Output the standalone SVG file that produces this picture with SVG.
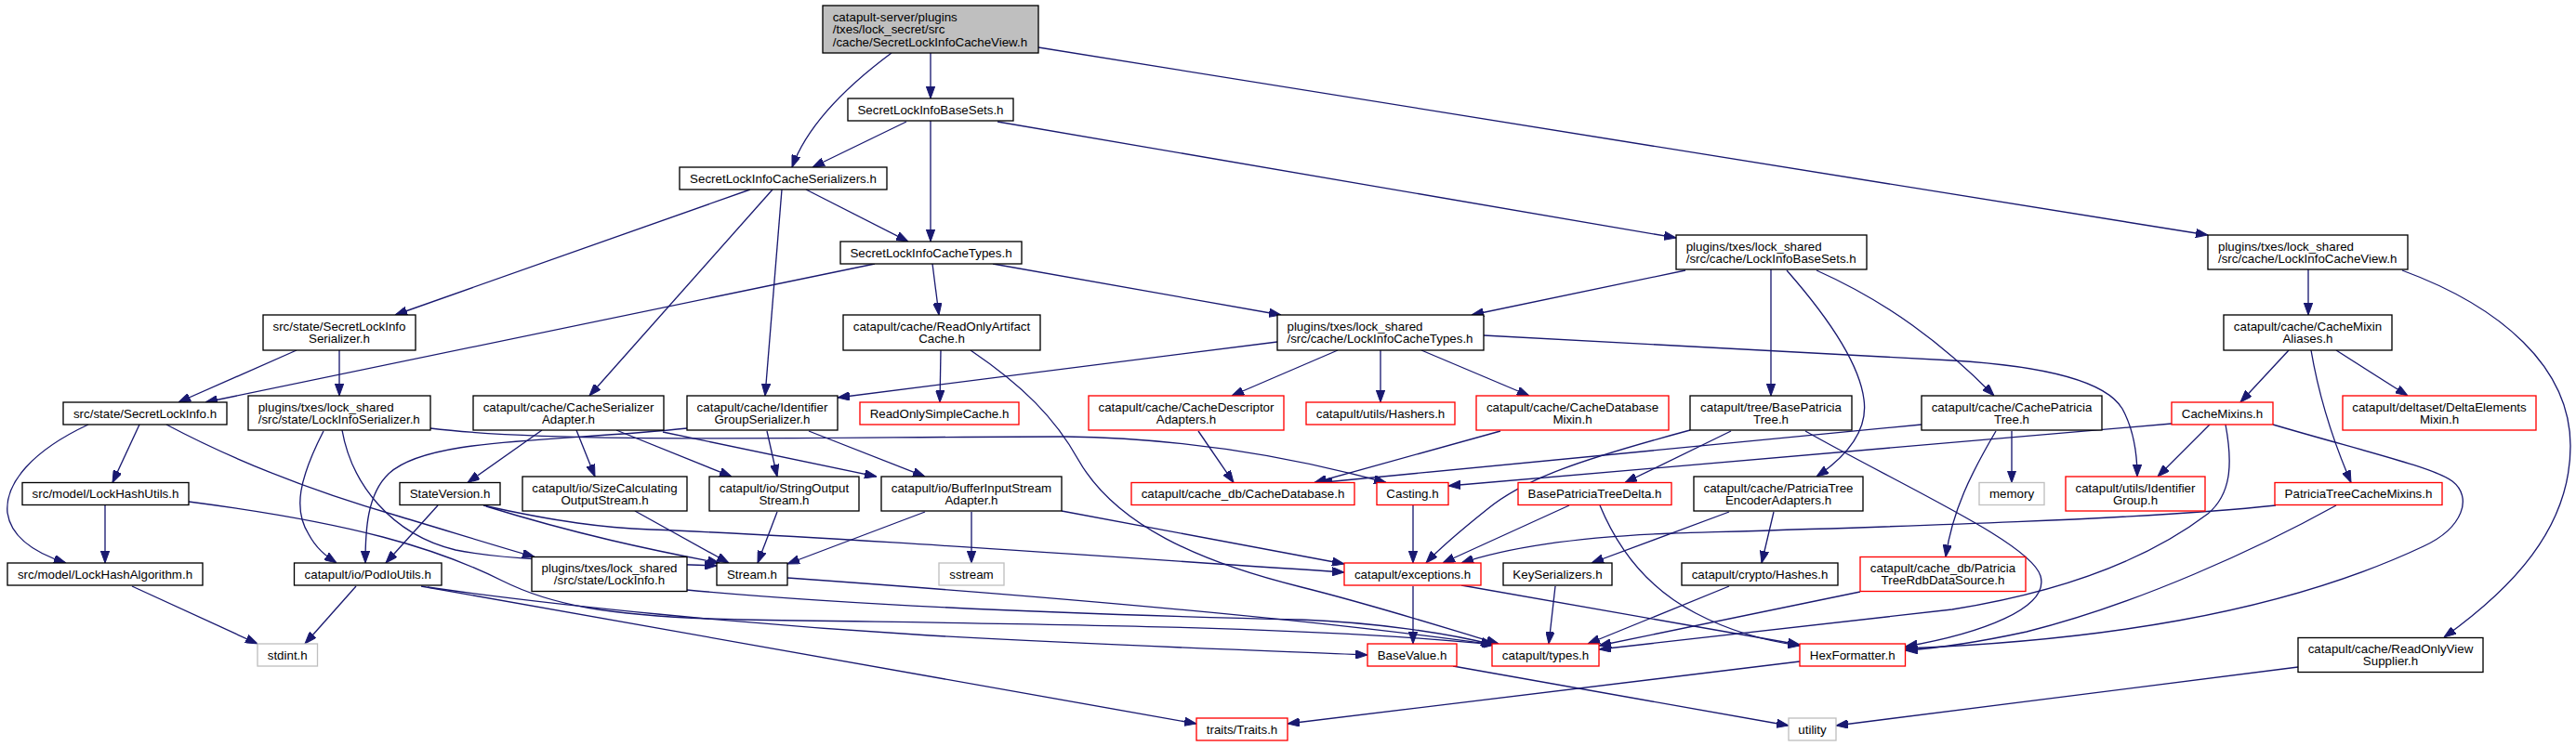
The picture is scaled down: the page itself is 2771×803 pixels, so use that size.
<svg xmlns="http://www.w3.org/2000/svg" width="2771" height="803" viewBox="0 0 2771 803">
<defs>
<style>
.nb{fill:#fff;stroke:#000;stroke-width:1.33}
.nr{fill:#fff;stroke:#f00;stroke-width:1.33}
.ng{fill:#fff;stroke:#bfbfbf;stroke-width:1.33}
.nroot{fill:#bfbfbf;stroke:#000;stroke-width:1.33}
text{font-family:"Liberation Sans",Arial,Helvetica,sans-serif;font-size:13.33px;fill:#000}
.m{text-anchor:middle}
#edges path{fill:none;stroke:#191970;stroke-width:1.33;marker-end:url(#arr)}
</style>
<marker id="arr" markerUnits="userSpaceOnUse" viewBox="0 0 13 9.4" refX="13" refY="4.7" markerWidth="13" markerHeight="9.4" orient="auto"><path d="M0,0 L13,4.7 L0,9.4 z" fill="#191970" stroke="#191970" stroke-width="1"/></marker>
</defs>
<rect width="2771" height="803" fill="#fff"/>
<g id="edges">
<path d="M959,57 C920,86 870,130 852,180"/>
<path d="M1001,57 L1001,106"/>
<path d="M1117,51 L2375,253"/>
<path d="M975,131 L874,180"/>
<path d="M1001,130 L1001,260"/>
<path d="M1073,131 L1803,256"/>
<path d="M867,204 L977,260"/>
<path d="M807,204 L425,339"/>
<path d="M831,204 L634,426"/>
<path d="M841,204 L823,426"/>
<path d="M941,284 L221,433"/>
<path d="M1003,284 L1010,339"/>
<path d="M1068,284 L1378,339"/>
<path d="M1813,291 L1583,339"/>
<path d="M1905,290 L1905,426"/>
<path d="M1922,291 C1965,340 2000,390 2005,430 C2010,465 1985,492 1954,513"/>
<path d="M1954,291 C2030,325 2090,370 2145,426"/>
<path d="M2483,290 L2483,339"/>
<path d="M2584,291 C2690,330 2765,395 2765,480 C2765,570 2700,635 2629,686"/>
<path d="M319,377 L192,433"/>
<path d="M365,377 L365,426"/>
<path d="M1012,377 L1011,433"/>
<path d="M1044,377 C1100,415 1135,450 1160,495 C1200,565 1290,605 1400,632 C1480,652 1545,673 1612,693"/>
<path d="M1374,368 L901,428"/>
<path d="M1439,377 L1325,426"/>
<path d="M1485,377 L1485,433"/>
<path d="M1529,377 L1645,426"/>
<path d="M1596,361 L2100,388 C2200,394 2265,410 2283,440 C2295,462 2299,490 2299,513"/>
<path d="M2462,377 L2410,433"/>
<path d="M2486,377 C2495,430 2512,480 2529,519.5"/>
<path d="M2513,377 L2590,426"/>
<path d="M150,457 L121,519.5"/>
<path d="M95,457 C35,485 5,520 8,552 C12,580 40,596 71,606"/>
<path d="M179,457 C260,500 340,530 430,556 C490,574 535,588 575,599.5"/>
<path d="M113,544 L113,606"/>
<path d="M203,540 C380,563 470,590 540,625 C590,650 650,664 800,667 C1100,672 1400,673 1608,694"/>
<path d="M348,464 C322,515 315,548 332,575 C340,590 350,598 362,606"/>
<path d="M368,463 C378,520 420,575 490,592 C560,606 680,605 771,609"/>
<path d="M463,461 C600,478 900,470 1146,470 C1300,472 1420,500 1491,519.5"/>
<path d="M583,463 L503,519.5"/>
<path d="M620,463 L640,513"/>
<path d="M663,463 L787,513"/>
<path d="M713,465 L943,513"/>
<path d="M739,461 C600,476 460,470 418,510 C395,532 393,570 393,606"/>
<path d="M825,464 L836,513"/>
<path d="M870,464 L995,513"/>
<path d="M1289,464 L1327,519.5"/>
<path d="M1614,464 L1414,519.5"/>
<path d="M1818,463 C1700,495 1640,515 1600,548 C1570,572 1545,594 1534,606"/>
<path d="M1862,464 L1748,519.5"/>
<path d="M1942,464 C2050,525 2185,585 2195,620 C2205,655 2130,682 2049.5,696"/>
<path d="M2164,464 L2164,519.5"/>
<path d="M2147,464 C2120,510 2100,550 2093,599.5"/>
<path d="M2067,457 L1420,519.5"/>
<path d="M2336,456 L1558,523"/>
<path d="M2377,457 L2321,513"/>
<path d="M2394,457 C2402,500 2400,532 2375,553 C2300,610 2200,640 2100,656 L1720,699"/>
<path d="M2445,457 C2540,485 2618,503 2638,518 C2660,535 2650,568 2607,588 C2450,662 2250,690 2049.5,698"/>
<path d="M1688,544 L1552,606"/>
<path d="M1721,544 C1740,590 1770,632 1824,660 C1862,680 1900,690 1936,695"/>
<path d="M1860,551 L1712,606"/>
<path d="M1908,551 L1895,606"/>
<path d="M2448,544 C2300,560 2000,568 1800,574 C1690,578 1620,590 1572,606"/>
<path d="M2513,544 C2430,590 2300,650 2180,680 C2120,693 2080,698 2049.5,700"/>
<path d="M1520,544 L1520,606"/>
<path d="M471,544 L415,606"/>
<path d="M523,545 C620,575 700,592 774,606"/>
<path d="M520,544 C600,562 650,568 700,570 C900,578 1200,600 1446,616"/>
<path d="M683,550 L784,606"/>
<path d="M836,551 L815,606"/>
<path d="M995,551 L847,607"/>
<path d="M1045,551 L1045,606"/>
<path d="M1142,550 L1446,607"/>
<path d="M142,631 L277,693"/>
<path d="M383,631 L328,693"/>
<path d="M460,632 C600,652 800,672 1000,684 C1200,695 1350,700 1471,705"/>
<path d="M453,631 L1287,779"/>
<path d="M739,635 C900,650 1100,660 1400,667 C1480,670 1560,682 1606,694"/>
<path d="M847,622 C1100,640 1400,665 1607,694"/>
<path d="M1520,631 L1520,693"/>
<path d="M1572,630 L1936,694"/>
<path d="M1673,631 L1666,693"/>
<path d="M1860,631 L1708,693"/>
<path d="M2001,637 L1720,695"/>
<path d="M1563,717 L1924,781"/>
<path d="M1936,712 L1385,779"/>
<path d="M2472,718 L1975,781"/>
</g>
<g id="n_root"><rect class="nroot" x="885" y="6" width="232" height="51"/><text x="895.7" y="23.1">catapult-server/plugins</text><text x="895.7" y="36.4">/txes/lock_secret/src</text><text x="895.7" y="49.7">/cache/SecretLockInfoCacheView.h</text></g>
<g id="n_basesets"><rect class="nb" x="912" y="106" width="178" height="24"/><text class="m" x="1001" y="122.6">SecretLockInfoBaseSets.h</text></g>
<g id="n_serializers"><rect class="nb" x="731" y="180" width="223" height="24"/><text class="m" x="842.5" y="196.6">SecretLockInfoCacheSerializers.h</text></g>
<g id="n_cachetypes"><rect class="nb" x="904" y="260" width="195" height="24"/><text class="m" x="1001.5" y="276.6">SecretLockInfoCacheTypes.h</text></g>
<g id="n_lockinfobasesets"><rect class="nb" x="1803" y="253" width="205" height="37"/><text x="1813.7" y="269.5">plugins/txes/lock_shared</text><text x="1813.7" y="282.8">/src/cache/LockInfoBaseSets.h</text></g>
<g id="n_lockinfocacheview"><rect class="nb" x="2375" y="253" width="215" height="37"/><text x="2386" y="269.5">plugins/txes/lock_shared</text><text x="2386" y="282.8">/src/cache/LockInfoCacheView.h</text></g>
<g id="n_secretlockinfoserializer"><rect class="nb" x="283" y="339" width="164" height="38"/><text class="m" x="365" y="356">src/state/SecretLockInfo</text><text class="m" x="365" y="369.3">Serializer.h</text></g>
<g id="n_readonlyartifact"><rect class="nb" x="907" y="339" width="212" height="38"/><text class="m" x="1013" y="356">catapult/cache/ReadOnlyArtifact</text><text class="m" x="1013" y="369.3">Cache.h</text></g>
<g id="n_lockinfocachetypes"><rect class="nb" x="1374" y="339" width="222" height="38"/><text x="1384.5" y="356">plugins/txes/lock_shared</text><text x="1384.5" y="369.3">/src/cache/LockInfoCacheTypes.h</text></g>
<g id="n_cachemixinaliases"><rect class="nb" x="2392" y="339" width="181" height="38"/><text class="m" x="2482.5" y="356">catapult/cache/CacheMixin</text><text class="m" x="2482.5" y="369.3">Aliases.h</text></g>
<g id="n_secretlockinfo"><rect class="nb" x="68" y="433" width="176" height="24"/><text class="m" x="156" y="449.6">src/state/SecretLockInfo.h</text></g>
<g id="n_lockinfoserializer"><rect class="nb" x="267" y="426" width="196" height="37"/><text x="277.7" y="442.5">plugins/txes/lock_shared</text><text x="277.7" y="455.8">/src/state/LockInfoSerializer.h</text></g>
<g id="n_cacheserializeradapter"><rect class="nb" x="509" y="426" width="205" height="37"/><text class="m" x="611.5" y="442.5">catapult/cache/CacheSerializer</text><text class="m" x="611.5" y="455.8">Adapter.h</text></g>
<g id="n_identifiergroupserializer"><rect class="nb" x="739" y="426" width="162" height="37"/><text class="m" x="820" y="442.5">catapult/cache/Identifier</text><text class="m" x="820" y="455.8">GroupSerializer.h</text></g>
<g id="n_readonlysimplecache"><rect class="nr" x="925" y="433" width="171" height="24"/><text class="m" x="1010.5" y="449.6">ReadOnlySimpleCache.h</text></g>
<g id="n_cachedescriptoradapters"><rect class="nr" x="1171" y="426" width="210" height="37"/><text class="m" x="1276" y="442.5">catapult/cache/CacheDescriptor</text><text class="m" x="1276" y="455.8">Adapters.h</text></g>
<g id="n_hashers"><rect class="nr" x="1405" y="433" width="160" height="24"/><text class="m" x="1485" y="449.6">catapult/utils/Hashers.h</text></g>
<g id="n_cachedatabasemixin"><rect class="nr" x="1588" y="426" width="207" height="37"/><text class="m" x="1691.5" y="442.5">catapult/cache/CacheDatabase</text><text class="m" x="1691.5" y="455.8">Mixin.h</text></g>
<g id="n_basepatriciatree"><rect class="nb" x="1818" y="426" width="174" height="37"/><text class="m" x="1905" y="442.5">catapult/tree/BasePatricia</text><text class="m" x="1905" y="455.8">Tree.h</text></g>
<g id="n_cachepatriciatree"><rect class="nb" x="2067" y="426" width="194" height="37"/><text class="m" x="2164" y="442.5">catapult/cache/CachePatricia</text><text class="m" x="2164" y="455.8">Tree.h</text></g>
<g id="n_cachemixins"><rect class="nr" x="2336" y="433" width="109" height="24"/><text class="m" x="2390.5" y="449.6">CacheMixins.h</text></g>
<g id="n_deltaelementsmixin"><rect class="nr" x="2520" y="426" width="208" height="37"/><text class="m" x="2624" y="442.5">catapult/deltaset/DeltaElements</text><text class="m" x="2624" y="455.8">Mixin.h</text></g>
<g id="n_lockhashutils"><rect class="nb" x="24" y="519.5" width="179" height="24"/><text class="m" x="113.5" y="536.1">src/model/LockHashUtils.h</text></g>
<g id="n_stateversion"><rect class="nb" x="430" y="519.5" width="108" height="24"/><text class="m" x="484" y="536.1">StateVersion.h</text></g>
<g id="n_sizecalc"><rect class="nb" x="562" y="513" width="177" height="37"/><text class="m" x="650.5" y="529.5">catapult/io/SizeCalculating</text><text class="m" x="650.5" y="542.8">OutputStream.h</text></g>
<g id="n_stringoutputstream"><rect class="nb" x="763" y="513" width="161" height="37"/><text class="m" x="843.5" y="529.5">catapult/io/StringOutput</text><text class="m" x="843.5" y="542.8">Stream.h</text></g>
<g id="n_bufferinputstream"><rect class="nb" x="948" y="513" width="194" height="37"/><text class="m" x="1045" y="529.5">catapult/io/BufferInputStream</text><text class="m" x="1045" y="542.8">Adapter.h</text></g>
<g id="n_cachedatabase"><rect class="nr" x="1217" y="519.5" width="240" height="24"/><text class="m" x="1337" y="536.1">catapult/cache_db/CacheDatabase.h</text></g>
<g id="n_casting"><rect class="nr" x="1481" y="519.5" width="77" height="24"/><text class="m" x="1519.5" y="536.1">Casting.h</text></g>
<g id="n_basepatriciatreedelta"><rect class="nr" x="1633" y="519.5" width="165" height="24"/><text class="m" x="1715.5" y="536.1">BasePatriciaTreeDelta.h</text></g>
<g id="n_patriciatreeencoder"><rect class="nb" x="1822" y="513" width="182" height="37"/><text class="m" x="1913" y="529.5">catapult/cache/PatriciaTree</text><text class="m" x="1913" y="542.8">EncoderAdapters.h</text></g>
<g id="n_memory"><rect class="ng" x="2129" y="519.5" width="70" height="24"/><text class="m" x="2164" y="536.1">memory</text></g>
<g id="n_identifiergroup"><rect class="nr" x="2222" y="513" width="150" height="37"/><text class="m" x="2297" y="529.5">catapult/utils/Identifier</text><text class="m" x="2297" y="542.8">Group.h</text></g>
<g id="n_patriciatreecachemixins"><rect class="nr" x="2447" y="519.5" width="180" height="24"/><text class="m" x="2537" y="536.1">PatriciaTreeCacheMixins.h</text></g>
<g id="n_lockhashalgorithm"><rect class="nb" x="8" y="606" width="210" height="24"/><text class="m" x="113" y="622.6">src/model/LockHashAlgorithm.h</text></g>
<g id="n_podioutils"><rect class="nb" x="316.5" y="606" width="158.5" height="24"/><text class="m" x="395.75" y="622.6">catapult/io/PodIoUtils.h</text></g>
<g id="n_lockinfo"><rect class="nb" x="572" y="599.5" width="167" height="37"/><text class="m" x="655.5" y="616">plugins/txes/lock_shared</text><text class="m" x="655.5" y="629.3">/src/state/LockInfo.h</text></g>
<g id="n_stream"><rect class="nb" x="771" y="606" width="76" height="24"/><text class="m" x="809" y="622.6">Stream.h</text></g>
<g id="n_sstream"><rect class="ng" x="1010" y="606" width="70" height="24"/><text class="m" x="1045" y="622.6">sstream</text></g>
<g id="n_exceptions"><rect class="nr" x="1446" y="606" width="147" height="24"/><text class="m" x="1519.5" y="622.6">catapult/exceptions.h</text></g>
<g id="n_keyserializers"><rect class="nb" x="1617" y="606" width="117" height="24"/><text class="m" x="1675.5" y="622.6">KeySerializers.h</text></g>
<g id="n_cryptohashes"><rect class="nb" x="1809" y="606" width="168" height="24"/><text class="m" x="1893" y="622.6">catapult/crypto/Hashes.h</text></g>
<g id="n_patriciatreerdb"><rect class="nr" x="2001" y="599.5" width="178" height="37"/><text class="m" x="2090" y="616">catapult/cache_db/Patricia</text><text class="m" x="2090" y="629.3">TreeRdbDataSource.h</text></g>
<g id="n_stdint"><rect class="ng" x="277" y="693" width="64.5" height="24"/><text class="m" x="309.25" y="709.6">stdint.h</text></g>
<g id="n_basevalue"><rect class="nr" x="1471" y="693" width="96" height="24"/><text class="m" x="1519" y="709.6">BaseValue.h</text></g>
<g id="n_types"><rect class="nr" x="1605" y="693" width="115" height="24"/><text class="m" x="1662.5" y="709.6">catapult/types.h</text></g>
<g id="n_hexformatter"><rect class="nr" x="1936" y="693" width="113.5" height="24"/><text class="m" x="1992.75" y="709.6">HexFormatter.h</text></g>
<g id="n_readonlyviewsupplier"><rect class="nb" x="2472" y="686.5" width="199" height="37"/><text class="m" x="2571.5" y="703">catapult/cache/ReadOnlyView</text><text class="m" x="2571.5" y="716.3">Supplier.h</text></g>
<g id="n_traits"><rect class="nr" x="1287" y="773" width="98" height="24"/><text class="m" x="1336" y="789.6">traits/Traits.h</text></g>
<g id="n_utility"><rect class="ng" x="1924" y="773" width="51" height="24"/><text class="m" x="1949.5" y="789.6">utility</text></g>
</svg>
